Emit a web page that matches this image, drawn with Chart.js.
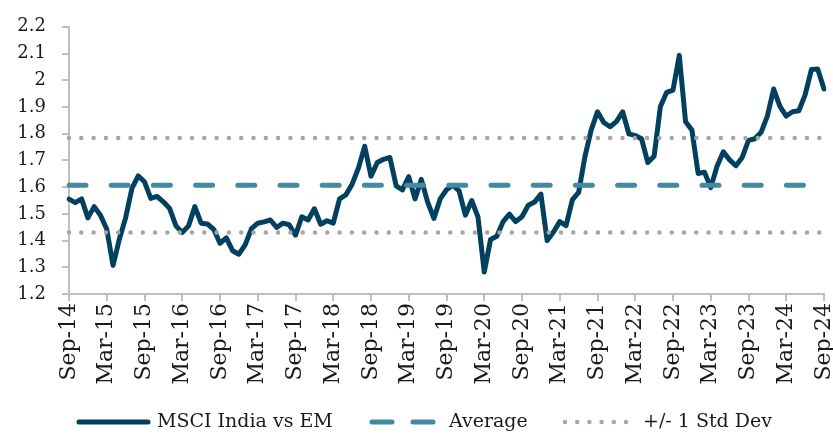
<!DOCTYPE html>
<html><head><meta charset="utf-8">
<script src="https://cdn.jsdelivr.net/npm/chart.js@4.4.1/dist/chart.umd.min.js"></script>
<style>html,body{margin:0;padding:0;background:#fff}#wrap{width:833px;height:436px;position:relative}</style>
</head><body><div id="wrap"><canvas id="c"></canvas></div>
<script>
// ---- categories (monthly, Sep-14 .. Sep-24)
const monthNames = ['Jan','Feb','Mar','Apr','May','Jun','Jul','Aug','Sep','Oct','Nov','Dec'];
const categories = [];
for (let i = 0; i < 121; i++) {
  const m = (8 + i) % 12;
  const y = 2014 + Math.floor((8 + i) / 12);
  categories.push(monthNames[m] + '-' + String(y % 100).padStart(2, '0'));
}
const xTickLabels = ['Sep-14','Mar-15','Sep-15','Mar-16','Sep-16','Mar-17','Sep-17','Mar-18','Sep-18','Mar-19','Sep-19','Mar-20','Sep-20','Mar-21','Sep-21','Mar-22','Sep-22','Mar-23','Sep-23','Mar-24','Sep-24'];
const yTicks = [1.2,1.3,1.4,1.5,1.6,1.7,1.8,1.9,2,2.1,2.2];

// ---- series
const indiaVsEM = [
  1.555,1.542,1.556,1.485,1.527,1.495,1.443,1.307,1.405,1.485,1.595,1.642,
  1.620,1.558,1.565,1.545,1.520,1.455,1.430,1.455,1.527,1.465,1.462,1.442,
  1.390,1.410,1.362,1.349,1.384,1.445,1.465,1.470,1.477,1.449,1.465,1.459,
  1.420,1.489,1.477,1.519,1.461,1.474,1.465,1.556,1.571,1.611,1.671,1.753,
  1.641,1.692,1.704,1.711,1.605,1.590,1.639,1.556,1.629,1.544,1.483,1.556,
  1.590,1.607,1.586,1.495,1.550,1.489,1.282,1.404,1.416,1.471,1.499,1.471,
  1.489,1.532,1.544,1.574,1.400,1.432,1.471,1.456,1.552,1.580,1.714,1.814,
  1.882,1.842,1.826,1.845,1.882,1.799,1.793,1.781,1.692,1.716,1.902,1.955,
  1.963,2.093,1.845,1.814,1.651,1.656,1.598,1.678,1.732,1.702,1.680,1.711,
  1.775,1.781,1.805,1.866,1.967,1.902,1.866,1.882,1.886,1.945,2.040,2.042,
  1.967
];
const average = 1.607;
const stdUpper = 1.784;
const stdLower = 1.430;

const seriesNames = ['MSCI India vs EM', 'Average', '+/- 1 Std Dev'];

const FONT = "'DejaVu Serif', 'Liberation Serif', serif";
const AXIS = '#bfbfbf';
const first = categories[0], last = categories[categories.length - 1];

const legendPlugin = {
  id: 'customLegend',
  afterDraw(chart) {
    const ctx = chart.ctx;
    const ds = chart.data.datasets;
    const y = 422;
    const items = [
      { d: ds[0], x0: 79, x1: 148, tx: 157, dash: [] },
      { d: ds[1], x0: 372, x1: 435, tx: 449, dash: [20, 21] },
      { d: ds[2], x0: 565, x1: 636, tx: 643, dash: [0, 12.2] }
    ];
    ctx.save();
    items.forEach((it, k) => {
      ctx.beginPath();
      ctx.strokeStyle = it.d.borderColor;
      ctx.lineWidth = it.d.borderWidth;
      ctx.lineCap = 'round';
      ctx.setLineDash(it.dash);
      ctx.moveTo(it.x0, y);
      ctx.lineTo(it.x1, y);
      ctx.stroke();
      ctx.setLineDash([]);
      ctx.fillStyle = '#1a1a1a';
      ctx.font = "19px " + FONT;
      ctx.textBaseline = 'middle';
      ctx.textAlign = 'left';
      ctx.fillText(seriesNames[k], it.tx, y);
    });
    ctx.restore();
  }
};

new Chart(document.getElementById('c'), {
  type: 'line',
  data: {
    labels: categories,
    datasets: [
      { label: seriesNames[0], data: indiaVsEM, borderColor: '#02405f', borderWidth: 5,
        pointRadius: 0, tension: 0, borderJoinStyle: 'round', borderCapStyle: 'round', order: 3 },
      { label: seriesNames[1], data: [{x: first, y: average}, {x: last, y: average}],
        borderColor: '#4289a2', borderWidth: 5, borderDash: [17, 25.2], borderCapStyle: 'round',
        pointRadius: 0, order: 1 },
      { label: seriesNames[2], data: [{x: first, y: stdUpper}, {x: last, y: stdUpper}],
        borderColor: '#a6a6a6', borderWidth: 4.5, borderDash: [0, 12.3], borderCapStyle: 'round',
        pointRadius: 0, order: 2 },
      { label: seriesNames[2] + ' (low)', data: [{x: first, y: stdLower}, {x: last, y: stdLower}],
        borderColor: '#a6a6a6', borderWidth: 4.5, borderDash: [0, 12.3], borderCapStyle: 'round',
        pointRadius: 0, order: 2 }
    ]
  },
  options: {
    responsive: true,
    maintainAspectRatio: false,
    animation: false,
    layout: { padding: { top: 20, right: 9, left: 0, bottom: 0 } },
    plugins: { legend: { display: false }, tooltip: { enabled: false } },
    scales: {
      x: {
        type: 'category',
        offset: false,
        afterFit(scale) { scale.height = 142; scale.paddingLeft = 0; scale.paddingRight = 0; },
        border: { display: true, color: AXIS, width: 2 },
        grid: {
          drawOnChartArea: false, drawTicks: true, tickLength: 7, lineWidth: 2,
          color: (c) => (xTickLabels.includes(categories[c.index]) ? AXIS : 'rgba(0,0,0,0)')
        },
        ticks: {
          autoSkip: false, minRotation: 90, maxRotation: 90, padding: 2,
          color: '#1a1a1a', font: { family: FONT, size: 22 },
          callback: (v, i) => (xTickLabels.includes(categories[i]) ? categories[i] : '')
        }
      },
      y: {
        min: yTicks[0], max: yTicks[yTicks.length - 1],
        afterFit(scale) { scale.width = 69; },
        afterBuildTicks(scale) { scale.ticks = yTicks.map(v => ({ value: v })); },
        border: { display: true, color: AXIS, width: 2 },
        grid: { drawOnChartArea: false, drawTicks: true, tickLength: 7, color: AXIS, lineWidth: 2 },
        ticks: {
          padding: 16, color: '#1a1a1a', font: { family: FONT, size: 18 },
          callback: (v) => String(Number(v.toFixed(1)))
        }
      }
    }
  },
  plugins: [legendPlugin]
});
</script>
</body></html>
